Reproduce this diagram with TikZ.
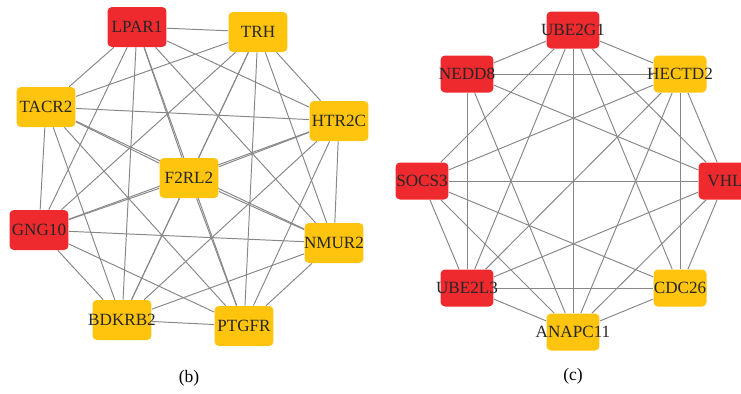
\documentclass[tikz,border=0pt]{standalone}
\usepackage{fontspec}
\setmainfont{Liberation Serif}
\usetikzlibrary{backgrounds}

\definecolor{genered}{RGB}{238,42,47}
\definecolor{geneyellow}{RGB}{255,196,14}
\definecolor{edgegray}{RGB}{135,135,135}

\begin{document}
\begin{tikzpicture}[%
    x=0.02cm, y=-0.02cm,
    gene/.style={
        rectangle,
        rounded corners=2.5pt,
        minimum width=1.18cm,
        minimum height=0.8cm,
        inner sep=0pt,
        text=black!85,
        font=\fontsize{9.75}{12}\selectfont
        },
    genesmall/.style={gene, minimum width=1.06cm, minimum height=0.74cm},
    redbox/.style={fill=genered},
    yellowbox/.style={fill=geneyellow},
    link/.style={draw=edgegray, line width=0.55pt},
]

\clip (0,0) rectangle (741,393);

% (b)
\node[gene,redbox]    (LPAR1)  at (137,27)  {\makebox[0pt]{LPAR1}};
\node[gene,yellowbox] (TRH)    at (258,32)  {\makebox[0pt]{TRH}};
\node[gene,yellowbox] (TACR2)  at (46,107)  {\makebox[0pt]{TACR2}};
\node[gene,yellowbox] (HTR2C)  at (339,121) {\makebox[0pt]{HTR2C}};
\node[gene,yellowbox] (F2RL2)  at (189,178) {\makebox[0pt]{F2RL2}};
\node[gene,redbox]    (GNG10)  at (39,230)  {\makebox[0pt]{GNG10}};
\node[gene,yellowbox] (NMUR2)  at (334,243) {\makebox[0pt]{NMUR2}};
\node[gene,yellowbox] (BDKRB2) at (122,320) {\makebox[0pt]{BDKRB2}};
\node[gene,yellowbox] (PTGFR)  at (244,326) {\makebox[0pt]{PTGFR}};
\node[font=\fontsize{10}{12}\selectfont] (labelb) at (189,378) {(b)};

% (c)
\node[genesmall,redbox]    (UBE2G1)  at (573,30)  {\makebox[0pt]{UBE2G1}};
\node[genesmall,redbox]    (NEDD8)   at (467,74)  {\makebox[0pt]{NEDD8}};
\node[genesmall,yellowbox] (HECTD2)  at (680,74)  {\makebox[0pt]{HECTD2}};
\node[genesmall,redbox]    (SOCS3)   at (422,181) {\makebox[0pt]{SOCS3}};
\node[genesmall,redbox]    (VHL)     at (725,181) {\makebox[0pt]{VHL}};
\node[genesmall,redbox]    (UBE2L3)  at (467,288) {\makebox[0pt]{UBE2L3}};
\node[genesmall,yellowbox] (CDC26)   at (680,288) {\makebox[0pt]{CDC26}};
\node[genesmall,yellowbox] (ANAPC11) at (573,332) {\makebox[0pt]{ANAPC11}};
\node[font=\fontsize{10}{12}\selectfont] (labelc) at (573,376) {(c)};

\begin{scope}[on background layer]
% every pair in (b)
\foreach \a [count=\i] in {LPAR1,TRH,TACR2,HTR2C,F2RL2,GNG10,NMUR2,BDKRB2,PTGFR}
    \foreach \b [count=\j] in {LPAR1,TRH,TACR2,HTR2C,F2RL2,GNG10,NMUR2,BDKRB2,PTGFR}
        {\ifnum\j>\i \draw[link] (\a) -- (\b); \fi}
% (c)
\foreach \a/\b in {UBE2G1/NEDD8, UBE2G1/HECTD2, UBE2G1/SOCS3, UBE2G1/VHL,
                   UBE2G1/UBE2L3, UBE2G1/CDC26, UBE2G1/ANAPC11,
                   NEDD8/HECTD2, NEDD8/VHL, NEDD8/UBE2L3, NEDD8/ANAPC11,
                   HECTD2/SOCS3, HECTD2/VHL, HECTD2/UBE2L3, HECTD2/CDC26, HECTD2/ANAPC11,
                   SOCS3/VHL, SOCS3/UBE2L3, SOCS3/CDC26, SOCS3/ANAPC11,
                   VHL/UBE2L3, VHL/CDC26, VHL/ANAPC11,
                   UBE2L3/CDC26, UBE2L3/ANAPC11, CDC26/ANAPC11}
    \draw[link] (\a) -- (\b);
\end{scope}
\end{tikzpicture}
\end{document}
